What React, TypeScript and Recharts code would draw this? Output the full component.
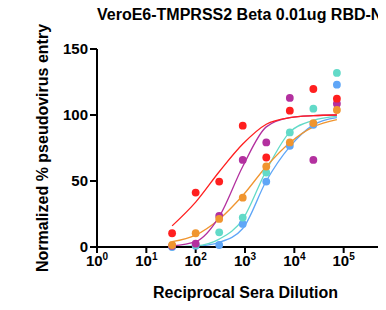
import React from 'react';
import { ComposedChart, XAxis, YAxis, Line, Scatter, Label } from 'recharts';

const FONT = '"Liberation Sans", Arial, Helvetica, sans-serif';

// reciprocal sera dilutions (3-fold series)
const dilutions = [33.3, 100, 300, 900, 2700, 8100, 24300, 72900];

// measured points
const redPts = [10.4, 41.2, 49.6, 91.9, 67.8, 103.3, 119.7, 112.4];
const magentaPts = [0.8, 2.5, 23.5, 66, 79.2, 112.9, 66, 108.6];
const orangePts = [1.5, 10.4, 21.3, 37.4, 61, 79.2, 93.9, 103.8];
const tealPts = [0.5, 1.5, 11.1, 22.3, 56.4, 86.8, 104.8, 131.9];
const bluePts = [0, 1, 1.5, 17.5, 49.6, 76.7, 92.6, 123];

// fitted curves at each dilution
const redFit = [16, 34, 57, 78, 93, 98, 99.5, 100];
const magentaFit = [0.8, 4, 23, 61, 91, 98, 99.5, 100];
const orangeFit = [4, 9, 21, 39, 61, 79, 91, 96.5];
const tealFit = [0, 0.8, 6, 21, 58, 87, 96, 99];
const blueFit = [0, 0.5, 3.5, 14, 50, 76, 92.5, 98];

const xTicks = [1, 10, 100, 1000, 10000, 100000, 1000000];
const yTicks = [0, 50, 100, 150];

const RED = '#ff1f1f';
const MAGENTA = '#b3309f';
const ORANGE = '#f0952f';
const TEAL = '#62dac8';
const BLUE = '#5fa6f7';

const data = dilutions.map((d, i) => ({
  x: d,
  redPt: redPts[i],
  magentaPt: magentaPts[i],
  orangePt: orangePts[i],
  tealPt: tealPts[i],
  bluePt: bluePts[i],
  redFit: redFit[i],
  magentaFit: magentaFit[i],
  orangeFit: orangeFit[i],
  tealFit: tealFit[i],
  blueFit: blueFit[i],
}));

const XTick = (props: any) => {
  const { x, y, payload } = props;
  const exp = Math.round(Math.log10(payload.value));
  return (
    <text x={x} y={y + 11} textAnchor="middle" fontFamily={FONT} fontWeight="bold" fontSize={15} fill="#000">
      10
      <tspan fontSize={10} dy={-6}>{exp}</tspan>
    </text>
  );
};

const dot = (color: string) => (props: any) => {
  const { cx, cy } = props;
  if (cx == null || cy == null) return <g />;
  return <circle cx={cx} cy={cy} r={3.9} fill={color} stroke="none" />;
};

export default function App() {
  return (
    <div style={{ position: 'relative', width: 378, height: 302, overflow: 'hidden' }}>
      <ComposedChart
        width={400}
        height={302}
        data={data}
        margin={{ top: 41, right: 15, bottom: 0, left: 0 }}
      >
        <XAxis
          dataKey="x"
          type="number"
          scale="log"
          domain={[1, 1000000]}
          ticks={xTicks}
          allowDataOverflow
          height={63}
          stroke="#000"
          strokeWidth={2}
          tickSize={6}
          tickLine={{ stroke: '#000', strokeWidth: 2 }}
          tick={<XTick />}
          interval={0}
        >
          <Label
            content={() => (
              <text x={237.5} y={290} textAnchor="middle" fontFamily={FONT} fontWeight="bold" fontSize={16} fill="#000">
                Reciprocal Sera Dilution
              </text>
            )}
          />
        </XAxis>
        <YAxis
          type="number"
          domain={[0, 150]}
          ticks={yTicks}
          width={89}
          stroke="#000"
          strokeWidth={2}
          tickSize={7}
          tickMargin={2}
          tickLine={{ stroke: '#000', strokeWidth: 2 }}
          tick={{ fill: '#000', fontFamily: FONT, fontWeight: 'bold', fontSize: 15 }}
          interval={0}
        >
          <Label
            content={() => (
              <text
                x={34}
                y={140}
                transform="rotate(-90 34 140)"
                textAnchor="middle"
                dominantBaseline="central"
                fontFamily={FONT}
                fontWeight="bold"
                fontSize={16}
                fill="#000"
              >
                Normalized % pseudovirus entry
              </text>
            )}
          />
        </YAxis>
        <Line type="monotone" dataKey="blueFit" stroke={BLUE} strokeWidth={1.3} dot={false} activeDot={false} isAnimationActive={false} />
        <Line type="monotone" dataKey="tealFit" stroke={TEAL} strokeWidth={1.3} dot={false} activeDot={false} isAnimationActive={false} />
        <Line type="monotone" dataKey="orangeFit" stroke={ORANGE} strokeWidth={1.3} dot={false} activeDot={false} isAnimationActive={false} />
        <Line type="monotone" dataKey="magentaFit" stroke={MAGENTA} strokeWidth={1.3} dot={false} activeDot={false} isAnimationActive={false} />
        <Line type="monotone" dataKey="redFit" stroke={RED} strokeWidth={1.3} dot={false} activeDot={false} isAnimationActive={false} />
        <Scatter dataKey="bluePt" fill={BLUE} shape={dot(BLUE)} isAnimationActive={false} />
        <Scatter dataKey="tealPt" fill={TEAL} shape={dot(TEAL)} isAnimationActive={false} />
        <Scatter dataKey="magentaPt" fill={MAGENTA} shape={dot(MAGENTA)} isAnimationActive={false} />
        <Scatter dataKey="redPt" fill={RED} shape={dot(RED)} isAnimationActive={false} />
        <Scatter dataKey="orangePt" fill={ORANGE} shape={dot(ORANGE)} isAnimationActive={false} />
      </ComposedChart>
      <svg
        width={378}
        height={30}
        style={{ position: 'absolute', left: 0, top: 0, pointerEvents: 'none', overflow: 'visible' }}
      >
        <text x={89} y={11.5} fontFamily={FONT} fontWeight="bold" fontSize={16} fill="#000">
          VeroE6-TMPRSS2 Beta 0.01ug RBD-NP
        </text>
      </svg>
    </div>
  );
}
